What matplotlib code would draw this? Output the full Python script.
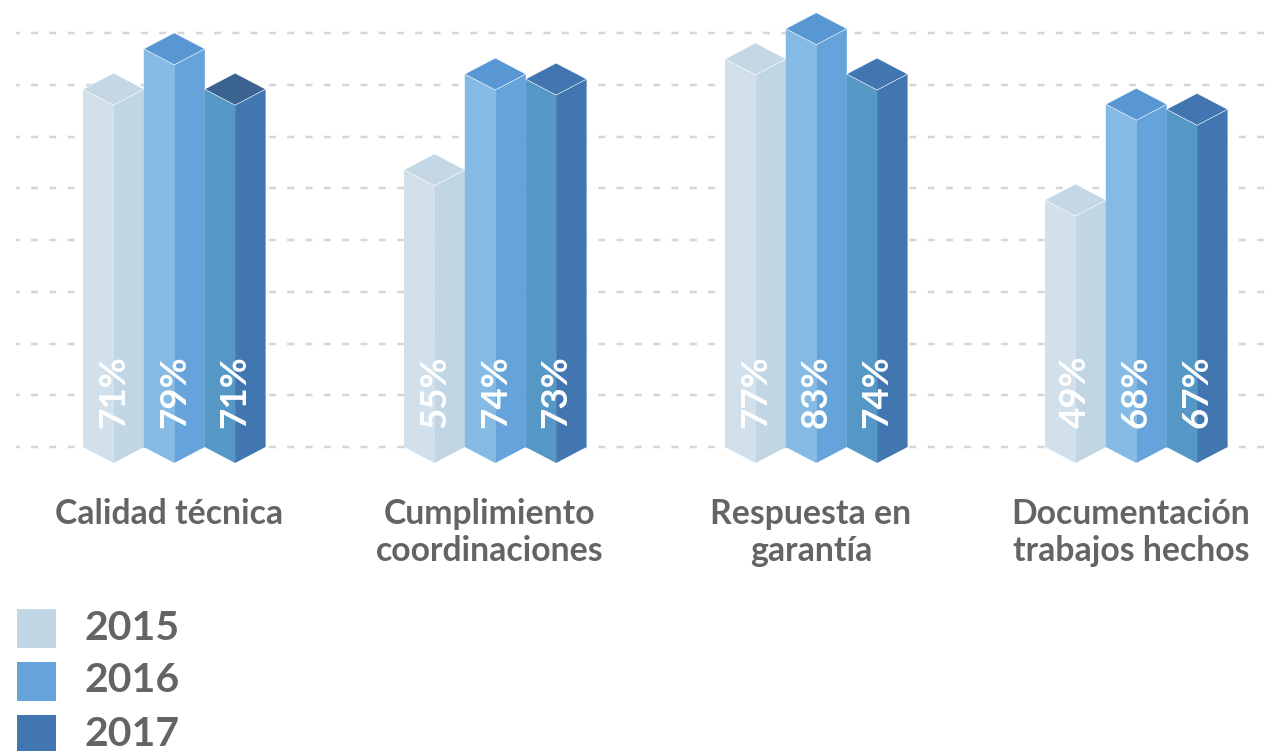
import numpy as np
import matplotlib
matplotlib.use('Agg')
import matplotlib.pyplot as plt
from matplotlib.patches import Polygon, Rectangle

categorias = ['Calidad técnica', 'Cumplimiento\ncoordinaciones', 'Respuesta en\ngarantía', 'Documentación\ntrabajos hechos']
anios = ['2015', '2016', '2017']
v2015 = [71, 55, 77, 49]
v2016 = [79, 74, 83, 68]
v2017 = [71, 73, 74, 67]
series = [v2015, v2016, v2017]

# cara izquierda, cara derecha, tapa
colores = [('#d1e0eb', '#c1d6e5', '#c3d7e5'),
           ('#84bae3', '#65a3da', '#5897d3'),
           ('#5598c6', '#4276b0', '#4276b0')]
color_leyenda = ['#c1d6e5', '#65a3da', '#4276b0']
tapa_oscura = '#3a6391'
gris = '#636466'

plt.rcParams['font.family'] = ['Lato', 'DejaVu Sans']

W, H = 1269, 751
esc = 5.04     # px por punto porcentual
y_base = 447

fig = plt.figure(figsize=(W/100, H/100), dpi=100)
ax = fig.add_axes([0, 0, 1, 1])
ax.set_xlim(0, W)
ax.set_ylim((y_base-H)/esc, y_base/esc)
ax.axis('off')

# lineas punteadas (7 px de trazo cada 18.3 px)
pt = 72/100
for i in range(9):
    y = i*51.75/esc
    ax.plot([16, W], [y, y], color='#d6d6d6', lw=2.5*pt, zorder=1,
            linestyle=(3.3*pt/(2.5*pt), (7/2.5, 11.3/2.5)), dash_capstyle='butt')

x_grupo = [83, 404, 725, 1045]
ancho = 30.5
fondo = 16/esc

for g, x0 in enumerate(x_grupo):
    for s, vals in enumerate(series):
        v = vals[g]
        x = x0 + s*60.8
        izq, der, tapa = colores[s]
        if s == 2 and g == 0:
            tapa = tapa_oscura
        # caras
        ax.add_patch(Polygon([(x, 0), (x+ancho, -fondo), (x+ancho, v-fondo), (x, v)], fc=izq, ec='none', zorder=2+s))
        ax.add_patch(Polygon([(x+ancho, -fondo), (x+2*ancho, 0), (x+2*ancho, v), (x+ancho, v-fondo)], fc=der, ec='none', zorder=2+s))
        ax.add_patch(Polygon([(x, v), (x+ancho, v+fondo), (x+2*ancho, v), (x+ancho, v-fondo)], fc=tapa, ec='white', lw=0.4, zorder=2+s))
        ax.text(x+ancho, 3.8, f'{v}%', color='white', fontsize=26.5, fontweight='bold', rotation=90,
                ha='center', va='bottom', zorder=6)
    ax.text(x0+86, (y_base-498)/esc, categorias[g], color=gris, fontsize=24.3, fontweight='bold',
            ha='center', va='top', linespacing=1.2, zorder=6)

# leyenda
for i, a in enumerate(anios):
    y_px = 609 + i*53
    ax.add_patch(Rectangle((17, (y_base-y_px-39)/esc), 39, 39/esc, fc=color_leyenda[i], ec='none'))
    ax.text(85, (y_base-y_px-19)/esc, a, color=gris, fontsize=29.5, fontweight='bold', ha='left', va='center')

fig.savefig('out.png', dpi=100)
